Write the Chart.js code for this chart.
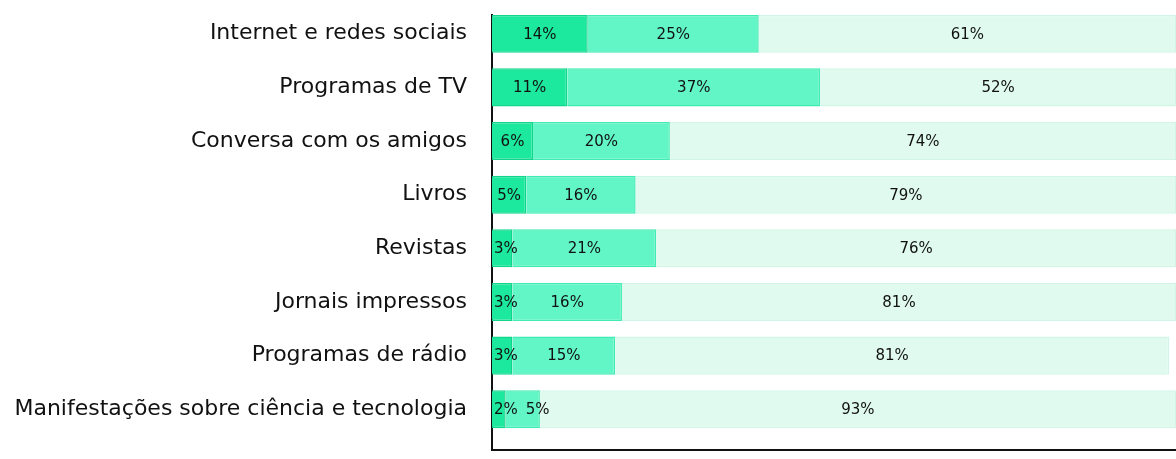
<!DOCTYPE html>
<html>
<head>
<meta charset="utf-8">
<script src="https://cdn.jsdelivr.net/npm/chart.js@4"></script>
<style>
    html, body { margin: 0; padding: 0; background: #fff; overflow: hidden; }
    #wrap { width: 1176px; height: 459px; }
</style>
</head>
<body>
<div id="wrap"><canvas id="chart"></canvas></div>
<script>
const categories = [
    'Internet e redes sociais',
    'Programas de TV',
    'Conversa com os amigos',
    'Livros',
    'Revistas',
    'Jornais impressos',
    'Programas de rádio',
    'Manifestações sobre ciência e tecnologia'
];
const serieMuito = [14, 11, 6, 5, 3, 3, 3, 2];
const seriePouco = [25, 37, 20, 16, 21, 16, 15, 5];
const serieNada = [61, 52, 74, 79, 76, 81, 81, 93];

// etichette dentro le barre (spostate se si sovrappongono)
const valueLabels = {
    id: 'valueLabels',
    afterDatasetsDraw(chart) {
        const ctx = chart.ctx;
        ctx.save();
        ctx.font = "15px 'DejaVu Sans', sans-serif";
        ctx.fillStyle = '#111';
        ctx.textBaseline = 'middle';
        ctx.textAlign = 'center';
        const prevRight = {};
        chart.data.datasets.forEach((ds, di) => {
            chart.getDatasetMeta(di).data.forEach((bar, i) => {
                const txt = ds.data[i] + '%';
                const w = ctx.measureText(txt).width;
                const left = Math.min(bar.base, bar.x);
                let x = Math.max((bar.x + bar.base) / 2, left + w / 2 + 2);
                if (prevRight[i] !== undefined) x = Math.max(x, prevRight[i] + 8 + w / 2);
                prevRight[i] = x + w / 2;
                ctx.fillText(txt, x, bar.y + 1);
            });
        });
        ctx.restore();
    }
};

new Chart(document.getElementById('chart'), {
    type: 'bar',
    data: {
        labels: categories.map((c, i) => i),
        datasets: [
            { label: 'Muito', data: serieMuito, backgroundColor: '#1ce99d', borderColor: '#10d58a', borderWidth: 1.5 },
            { label: 'Pouco', data: seriePouco, backgroundColor: '#62f6c7', borderColor: '#40ecb1', borderWidth: 1.5 },
            { label: 'Nada', data: serieNada, backgroundColor: '#e0faef', borderColor: '#d2f6e6', borderWidth: 1.5 }
        ]
    },
    options: {
        indexAxis: 'y',
        responsive: true,
        maintainAspectRatio: false,
        animation: false,
        layout: { padding: { top: 15, right: 0, bottom: 9, left: 0 } },
        datasets: { bar: { categoryPercentage: 1, barPercentage: 0.71 } },
        plugins: { legend: { display: false }, tooltip: { enabled: false } },
        scales: {
            x: {
                stacked: true,
                min: 0,
                max: 100,
                grid: { display: false, drawTicks: false },
                border: { display: true, color: '#111', width: 2 },
                ticks: { display: false },
                afterFit: (s) => { s.height = 0; s.paddingLeft = 0; s.paddingRight = 0; }
            },
            y: {
                type: 'linear',
                stacked: true,
                reverse: true,
                offset: false,
                min: -0.35,
                max: 7.76,
                grid: { display: false, drawTicks: false },
                border: { display: true, color: '#111', width: 2 },
                ticks: {
                    stepSize: 1,
                    includeBounds: false,
                    padding: 25,
                    color: '#111',
                    font: { family: "'DejaVu Sans', sans-serif", size: 22 },
                    callback: (v) => Number.isInteger(v) && categories[v] ? categories[v] : ''
                },
                afterFit: (s) => { s.width = 492; s.paddingTop = 0; s.paddingBottom = 0; }
            }
        }
    },
    plugins: [valueLabels]
});
</script>
</body>
</html>
